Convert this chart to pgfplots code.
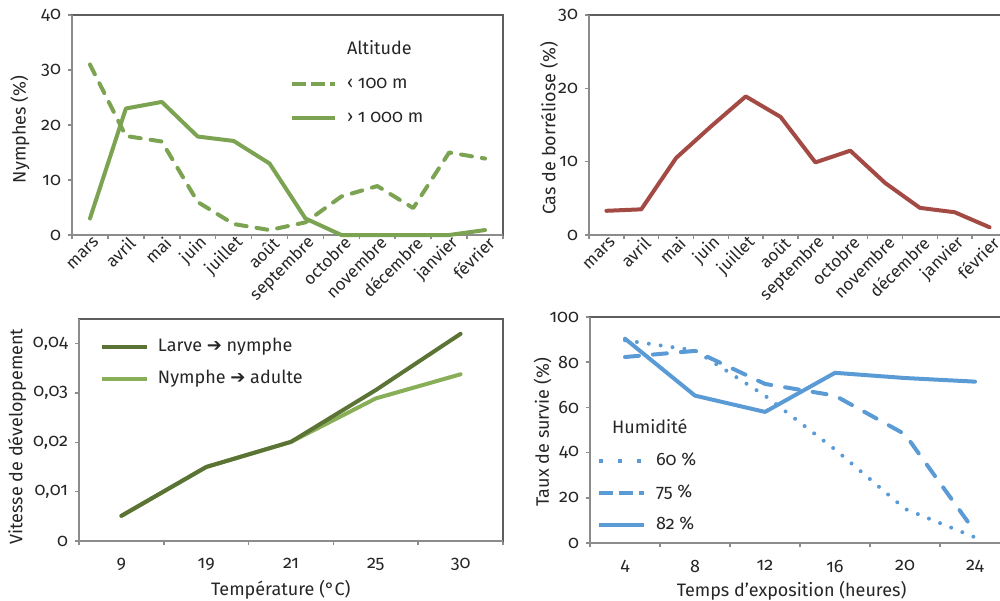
\documentclass[border=0pt]{standalone}
\usepackage{fontspec}
\setmainfont{Fira Sans}[Numbers=OldStyle]
\newfontfamily\dejavu{DejaVu Sans}
\usepackage{pgfplots}
\pgfplotsset{compat=1.18}
\definecolor{txt}{HTML}{262626}
\definecolor{framec}{HTML}{5E5E5E}
\definecolor{axgray}{HTML}{8C8C8C}
\definecolor{gr}{HTML}{7BA352}
\definecolor{brred}{HTML}{A34A44}
\definecolor{dkgr}{HTML}{5B7335}
\definecolor{ltgr}{HTML}{88AF57}
\definecolor{bl}{HTML}{5B9BD5}
\pgfplotsset{
  base/.style={
    scale only axis,
    clip=false,
    axis line style={draw=framec, line width=0.6pt},
    tick align=outside,
    tick pos=left,
    major tick length=2pt,
    every tick/.style={draw=axgray, line width=0.8pt},
    font=\fontsize{9}{11}\selectfont,
    tick label style={font=\fontsize{9}{11}\selectfont, text=txt},
    label style={font=\fontsize{9}{11}\selectfont, text=txt},
    /pgf/number format/assume math mode=true,
    legend style={draw=none, fill=none, inner sep=0pt, outer sep=0pt,
      font=\fontsize{9}{11}\selectfont, text=txt, row sep=8pt,
      nodes={inner sep=0pt, text height=6.5pt, text depth=1.5pt}},
    legend cell align=left,
    every axis plot/.append style={line width=2pt, line join=round, line cap=round},
  },
}
\begin{document}
\begin{tikzpicture}
\useasboundingbox (0,0) rectangle (500pt,300pt);

% ---------- top left ----------
\begin{axis}[base, at={(36pt,182.5pt)}, anchor=south west, width=215.5pt, height=110pt,
  xmin=0.5, xmax=12.5, ymin=0, ymax=40, ytick={0,10,20,30,40},
  xtick={0.5,1.5,...,12.5}, xticklabels={},
  extra x ticks={1,2,3,4,5,6,7,8,9,10,11,12},
  extra x tick labels={mars,avril,mai,juin,juillet,août,septembre,octobre,novembre,décembre,janvier,février},
  extra x tick style={major tick length=0pt},
  xticklabel style={rotate=45, anchor=east, xshift=4pt, yshift=-4pt, font=\fontsize{8.5}{10}\selectfont},
  ylabel={Nymphes (\%)}, ylabel style={at={(axis description cs:-0.1206,0.48)}, anchor=center},
  legend style={at={(rel axis cs:0.5058,0.878)}, anchor=north west, row sep=9pt,
    /tikz/every odd column/.append style={column sep=5pt}},
  legend image code/.code={\draw[#1] (0pt,0pt) -- (21.5pt,0pt);},
]
\draw[axgray, line width=0.9pt] (rel axis cs:0,1) -- (rel axis cs:0,0) -- (rel axis cs:1,0);
\addlegendimage{empty legend}\addlegendentry{Altitude}
\addlegendimage{gr, line width=2pt, line cap=butt, dash pattern=on 7pt off 2.5pt}\addlegendentry{‹ 100 m}
\addlegendimage{gr, line width=2pt, line cap=butt}\addlegendentry{› 1 000 m}
\addplot[color=gr, dash pattern=on 5.5pt off 5pt, forget plot] coordinates {(1,31)(2,18)(3,17)(4,6)(5,2)(6,0.9)(7,2.3)(8,7)(9,8.9)(10,4.9)(11,15)(12,13.9)};
\addplot[color=gr, forget plot] coordinates {(1,3)(2,23)(3,24.2)(4,17.9)(5,17.1)(6,13)(7,3)(8,0)(9,0)(10,0)(11,0)(12,0.9)};
\end{axis}

% ---------- top right ----------
\begin{axis}[base, at={(294.5pt,182.5pt)}, anchor=south west, width=209pt, height=110pt,
  xmin=0.5, xmax=12.5, ymin=0, ymax=30, ytick={0,10,20,30},
  xtick={0.5,1.5,...,12.5}, xticklabels={},
  extra x ticks={1,2,3,4,5,6,7,8,9,10,11,12},
  extra x tick labels={mars,avril,mai,juin,juillet,août,septembre,octobre,novembre,décembre,janvier,février},
  extra x tick style={major tick length=0pt},
  xticklabel style={rotate=45, anchor=east, xshift=4pt, yshift=-4pt, font=\fontsize{8.5}{10}\selectfont},
  ylabel={Cas de borréliose (\%)}, ylabel style={at={(axis description cs:-0.0957,0.484)}, anchor=center},
]
\draw[axgray, line width=0.9pt] (rel axis cs:0,1) -- (rel axis cs:0,0) -- (rel axis cs:1,0);
\addplot[color=brred] coordinates {(1,3.3)(2,3.5)(3,10.5)(4,14.8)(5,18.9)(6,16.1)(7,9.9)(8,11.5)(9,7.1)(10,3.7)(11,3.1)(12,1.05)};
\end{axis}

% ---------- bottom left ----------
\begin{axis}[base, at={(39.5pt,29.5pt)}, anchor=south west, width=212pt, height=111pt,
  xmin=0.5, xmax=5.5, ymin=0, ymax=0.045, ytick={0,0.01,0.02,0.03,0.04},
  scaled y ticks=false,
  yticklabel style={/pgf/number format/.cd, use comma, fixed, precision=2},
  xtick={0.5,1.5,...,5.5}, xticklabels={},
  extra x ticks={1,2,3,4,5}, extra x tick labels={9,19,21,25,30},
  extra x tick style={major tick length=0pt},
  xticklabel style={yshift=-5pt},
  xlabel={Température (°C)}, xlabel style={at={(axis description cs:0.476,-0.222)}, anchor=center},
  ylabel={Vitesse de développement}, ylabel style={at={(axis description cs:-0.146,0.47)}, anchor=center},
  legend style={at={(rel axis cs:0.0495,0.91)}, anchor=north west, row sep=8pt,
    /tikz/every odd column/.append style={column sep=4.5pt}},
  legend image code/.code={\draw[#1] (0pt,0pt) -- (22.5pt,0pt);},
]
\draw[axgray, line width=0.9pt] (rel axis cs:0,1) -- (rel axis cs:0,0) -- (rel axis cs:1,0);
\addlegendimage{dkgr, line width=2pt, line cap=butt}\addlegendentry{Larve {\dejavu ➔} nymphe}
\addlegendimage{ltgr, line width=2pt, line cap=butt}\addlegendentry{Nymphe {\dejavu ➔} adulte}
\addplot[color=ltgr, forget plot] coordinates {(1,0.0051)(2,0.015)(3,0.0201)(4,0.0289)(5,0.0338)};
\addplot[color=dkgr, forget plot] coordinates {(1,0.0051)(2,0.015)(3,0.0201)(4,0.0306)(5,0.042)};
\end{axis}

% ---------- bottom right ----------
\begin{axis}[base, at={(295pt,28.5pt)}, anchor=south west, width=210pt, height=113pt,
  xmin=0.5, xmax=6.5, ymin=0, ymax=100, ytick={0,20,40,60,80,100},
  xtick={0.5,1.5,...,6.5}, xticklabels={},
  extra x ticks={1,2,3,4,5,6}, extra x tick labels={4,8,12,16,20,24},
  extra x tick style={major tick length=0pt},
  xticklabel style={yshift=-5pt},
  xlabel={Temps d’exposition (heures)}, xlabel style={at={(axis description cs:0.48,-0.212)}, anchor=center},
  ylabel={Taux de survie (\%)}, ylabel style={at={(axis description cs:-0.113,0.49)}, anchor=center},
  legend style={at={(rel axis cs:0.0167,0.40)}, anchor=north west, row sep=8pt,
    /tikz/every odd column/.append style={column sep=5pt}},
  legend image code/.code={\draw[#1] (0pt,0pt) -- (22.5pt,0pt);},
]
\draw[axgray, line width=0.9pt] (rel axis cs:0,1) -- (rel axis cs:0,0) -- (rel axis cs:1,0);
\node[anchor=west, text=txt, font=\fontsize{9}{11}\selectfont, inner sep=0pt] at (rel axis cs:0.052,0.518) {Humidité};
\addlegendimage{bl, line width=2pt, line cap=butt, dash pattern=on 2pt off 7.5pt}\addlegendentry{60 \%}
\addlegendimage{bl, line width=2pt, line cap=butt, dash pattern=on 7pt off 3pt}\addlegendentry{75 \%}
\addlegendimage{bl, line width=2pt, line cap=butt}\addlegendentry{82 \%}
\addplot[color=bl, dash pattern=on 0pt off 6pt, forget plot] coordinates {(1,89.7)(2,85.2)(3,65.2)(4,41.4)(5,15.1)(6,2.5)};
\addplot[color=bl, dash pattern=on 7pt off 7pt, forget plot] coordinates {(1,82.3)(2,85)(3,70.4)(4,65.2)(5,48.1)(6,5)};
\addplot[color=bl, forget plot] coordinates {(1,90.4)(2,65.2)(3,58)(4,75.3)(5,73)(6,71.4)};
\end{axis}
\end{tikzpicture}
\end{document}
